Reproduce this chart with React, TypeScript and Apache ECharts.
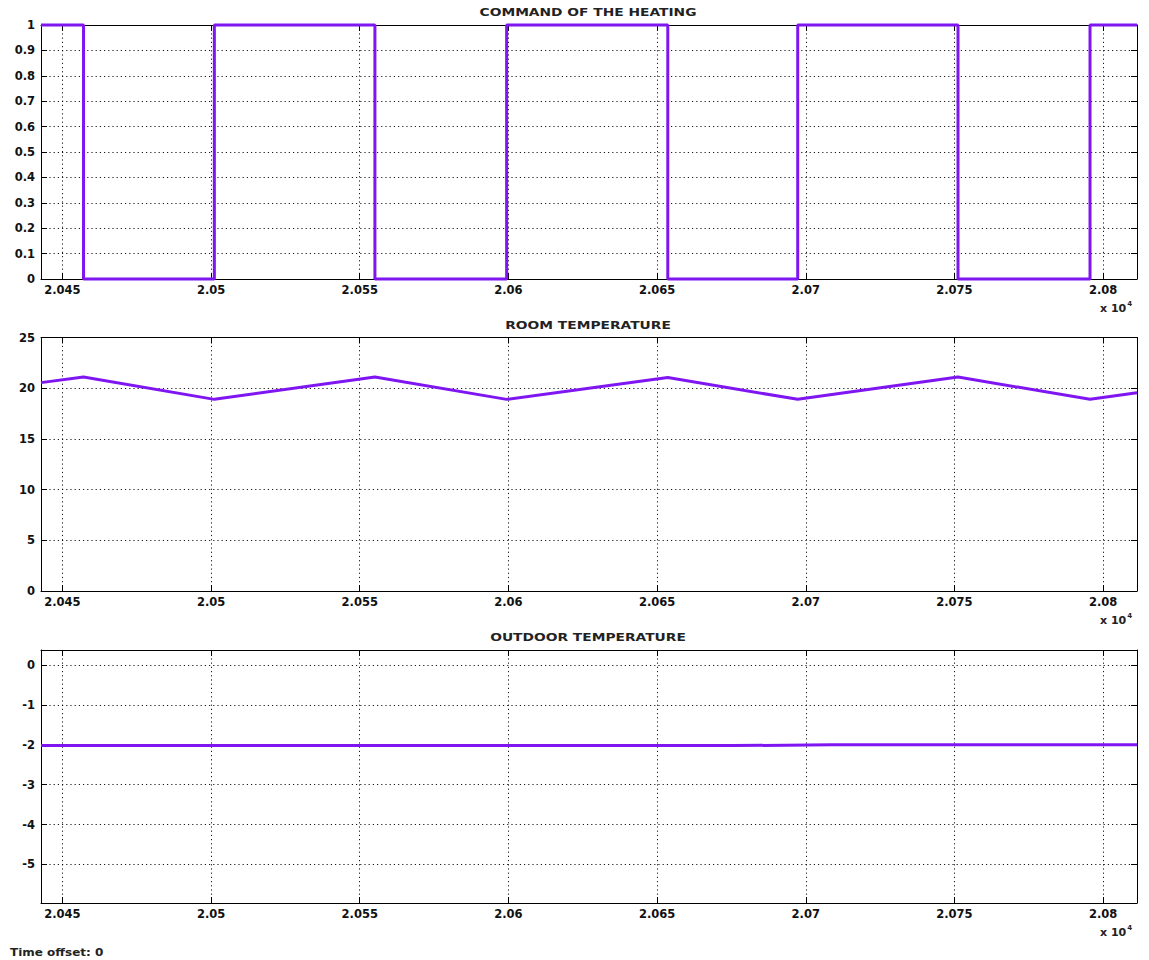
import React, { useEffect, useRef } from "react";
import * as echarts from "echarts";

// ---- data (time in seconds; axis shows value / 1e4) ----
const X_MIN = 20442.8;
const X_MAX = 20811.4;

const heatingTime = [20442.8, 20457.1, 20501.1, 20555.1, 20599.4, 20653.6, 20697.3, 20751.2, 20795.6, 20811.4];
const heatingValue = [1, 0, 1, 0, 1, 0, 1, 0, 1, 1];

const roomTime = [20442.8, 20457.1, 20501.1, 20555.1, 20599.4, 20653.6, 20697.3, 20751.2, 20795.6, 20811.4];
const roomValue = [20.55, 21.1, 18.9, 21.1, 18.9, 21.05, 18.9, 21.1, 18.9, 19.55];

const outdoorTime = [20442.8, 20675.5, 20708.8, 20811.4];
const outdoorValue = [-2.02, -2.02, -2.0, -2.0];

const titles = ["COMMAND OF THE HEATING", "ROOM TEMPERATURE", "OUTDOOR TEMPERATURE"];
const yRanges = [
  { min: 0, max: 1, split: 10 },
  { min: 0, max: 25, split: 5 },
  { min: -5.97, max: 0.38, split: 6 },
];

const LINE_COLOR = "#7F16F2";
const FONT = "DejaVu Sans";

const grids = [
  { left: 41, top: 25, width: 1096, height: 254 },
  { left: 41, top: 337.5, width: 1096, height: 253.5 },
  { left: 41, top: 650, width: 1096, height: 253 },
];

function fmtX(v: number) {
  return String(parseFloat((v / 1e4).toFixed(4)));
}
function fmtY(v: number) {
  return String(parseFloat(v.toFixed(4)));
}

export default function App() {
  const ref = useRef<HTMLDivElement>(null);
  useEffect(() => {
    if (!ref.current) return;
    const chart = echarts.init(ref.current, null, { renderer: "svg" });

    const axisLine = { show: true, onZero: false, lineStyle: { color: "#000", width: 1 } };
    const tick = { show: true, inside: true, length: 6, lineStyle: { color: "#000", width: 1 } };
    const grid = { show: true, lineStyle: { color: "#000", width: 1, type: [1.2, 3] as any, opacity: 0.9 } };
    const labelStyle = { color: "#111", fontFamily: FONT, fontSize: 11.5, fontWeight: "bold" as any };

    const xAxis: any[] = [];
    const yAxis: any[] = [];
    grids.forEach((g, i) => {
      xAxis.push({
        type: "value", gridIndex: i, position: "bottom", min: X_MIN, max: X_MAX, splitNumber: 8,
        axisLine, axisTick: tick, splitLine: grid,
        axisLabel: { ...labelStyle, margin: 5, formatter: fmtX, showMinLabel: false, showMaxLabel: false },
      });
      xAxis.push({
        type: "value", gridIndex: i, position: "top", min: X_MIN, max: X_MAX, splitNumber: 8,
        axisLine, axisTick: tick, splitLine: { show: false }, axisLabel: { show: false },
      });
      const r = yRanges[i];
      yAxis.push({
        type: "value", gridIndex: i, position: "left", min: r.min, max: r.max, splitNumber: r.split,
        axisLine, axisTick: tick, splitLine: grid,
        axisLabel: {
          ...labelStyle, margin: 6, formatter: fmtY,
          showMinLabel: i < 2, showMaxLabel: i < 2,
        },
      });
      yAxis.push({
        type: "value", gridIndex: i, position: "right", min: r.min, max: r.max, splitNumber: r.split,
        axisLine, axisTick: tick, splitLine: { show: false }, axisLabel: { show: false },
      });
    });

    const mk = (t: number[], v: number[]) => t.map((x, k) => [x, v[k]]);

    const graphic: any[] = [];
    grids.forEach((g, i) => {
      graphic.push({
        type: "text", x: g.left + g.width / 2 - 1, y: g.top - 12,
        scaleX: 1.38,
        style: { text: titles[i], fill: "#222", font: `bold 10px "${FONT}"`, textAlign: "center", textVerticalAlign: "middle" },
      });
      graphic.push({
        type: "text", x: 1100, y: g.top + g.height + 29,
        style: {
          text: "{a|x 10}{b|4}",
          textVerticalAlign: "middle",
          rich: {
            a: { fontFamily: FONT, fontSize: 11, fontWeight: "bold", fill: "#222" },
            b: { fontFamily: FONT, fontSize: 7, fontWeight: "bold", fill: "#222", verticalAlign: "top", padding: [0, 0, 8, 1] },
          },
        },
      });
    });
    graphic.push({
      type: "text", x: 10, y: 953, scaleX: 1.2,
      style: { text: "Time offset: 0", fill: "#222", font: `bold 10px "${FONT}"`, textVerticalAlign: "middle" },
    });

    const seriesBase = { type: "line", showSymbol: false, clip: false, lineStyle: { color: LINE_COLOR, width: 3 }, itemStyle: { color: LINE_COLOR } };

    chart.setOption({
      animation: false,
      backgroundColor: "#fff",
      grid: grids,
      xAxis,
      yAxis,
      graphic,
      series: [
        { ...seriesBase, xAxisIndex: 0, yAxisIndex: 0, step: "end", data: mk(heatingTime, heatingValue) },
        { ...seriesBase, xAxisIndex: 2, yAxisIndex: 2, data: mk(roomTime, roomValue) },
        { ...seriesBase, xAxisIndex: 4, yAxisIndex: 4, data: mk(outdoorTime, outdoorValue) },
      ],
    });
    return () => chart.dispose();
  }, []);
  return <div ref={ref} style={{ position: "fixed", left: 0, top: 0, width: 1149, height: 960, background: "#fff" }} />;
}
